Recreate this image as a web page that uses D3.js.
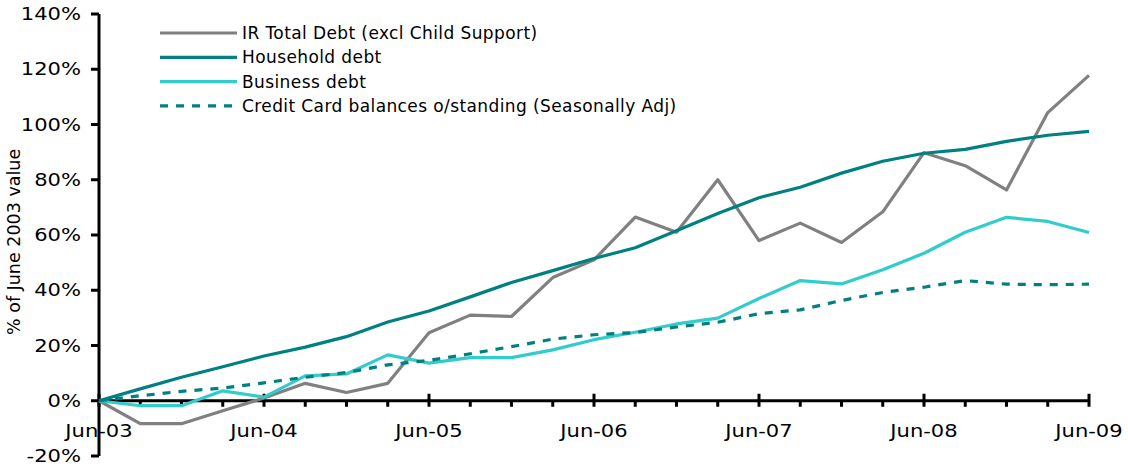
<!DOCTYPE html>
<html lang="en">
<head>
<meta charset="utf-8"/>
<title>Debt growth since June 2003</title>
<script src="https://d3js.org/d3.v7.min.js"></script>
<style>
  body { margin: 0; background: #fff; }
  svg text { font-family: "DejaVu Sans", Verdana, sans-serif; fill: #000; }
  .tick-label { font-size: 17px; }
  .legend-label { font-size: 17px; letter-spacing: 0.4px; }
  .line { fill: none; stroke-width: 3.2px; stroke-linejoin: round; }
</style>
</head>
<body>
<div id="chart"></div>
<script>
  // quarterly points, Jun-03 .. Jun-09 (% of June 2003 value)
  var xLabels = ["Jun-03", "Jun-04", "Jun-05", "Jun-06", "Jun-07", "Jun-08", "Jun-09"];
  var yTicks = [-20, 0, 20, 40, 60, 80, 100, 120, 140];

  var irTotal = [0, -8.3, -8.3, -3.6, 1, 6.3, 3, 6.3, 24.6, 31, 30.5, 44.6, 51,
                 66.5, 61, 80, 58, 64.3, 57.3, 68.4, 89.8, 85.1, 76.3, 104.3, 117.8];
  var household = [0, 4.3, 8.5, 12.3, 16.2, 19.4, 23.2, 28.5, 32.5, 37.6, 42.8, 47.1, 51.5,
                   55.4, 61.5, 67.8, 73.5, 77.3, 82.4, 86.7, 89.6, 91, 93.9, 96.1, 97.5];
  var business = [0, -1.8, -1.8, 3.6, 1.3, 9, 9.7, 16.6, 13.6, 15.6, 15.6, 18.4, 22.1,
                  24.8, 27.8, 29.9, 37, 43.5, 42.3, 47.4, 53.4, 61, 66.4, 64.9, 60.9];
  var creditCard = [0, 1.8, 3.4, 4.6, 6.5, 8.5, 10.2, 13, 14.6, 17, 19.6, 22.3, 23.9,
                    24.7, 26.7, 28.4, 31.5, 32.9, 36.3, 39.2, 41.1, 43.5, 42.2, 42, 42.2];

  var series = [
    { name: "IR Total Debt (excl Child Support)", values: irTotal, color: "#808080", dash: null },
    { name: "Household debt", values: household, color: "#008080", dash: null },
    { name: "Business debt", values: business, color: "#33CCCC", dash: null },
    { name: "Credit Card balances o/standing (Seasonally Adj)", values: creditCard, color: "#008080", dash: "8,8" }
  ];

  var width = 1128, height = 468;
  var stretch = 1.24; // tick labels in the original are drawn wide

  var x = d3.scaleLinear().domain([0, 24]).range([99, 1089]);
  var y = d3.scaleLinear().domain([-20, 140]).range([456, 14]);

  var svg = d3.select("#chart").append("svg")
      .attr("width", width)
      .attr("height", height);

  // y axis
  svg.append("line")
    .attr("x1", x(0)).attr("x2", x(0))
    .attr("y1", y(-20)).attr("y2", y(140))
    .attr("stroke", "#000").attr("stroke-width", 3);

  svg.selectAll(".ytick")
      .data(yTicks)
    .enter().append("line")
      .attr("x1", x(0) - 8).attr("x2", x(0))
      .attr("y1", function(d) { return y(d); })
      .attr("y2", function(d) { return y(d); })
      .attr("stroke", "#000").attr("stroke-width", 3);

  svg.selectAll(".ylabel")
      .data(yTicks)
    .enter().append("text")
      .attr("class", "tick-label")
      .attr("transform", function(d) { return "translate(" + (x(0) - 18) + "," + y(d) + ") scale(" + stretch + ",1)"; })
      .attr("dy", "0.36em")
      .attr("text-anchor", "end")
      .text(function(d) { return d + "%"; });

  svg.append("text")
    .attr("transform", "translate(20," + y(57.5) + ") rotate(-90)")
    .attr("text-anchor", "middle")
    .style("font-size", "17.5px")
    .text("% of June 2003 value");

  // x axis along 0%
  svg.append("line")
    .attr("x1", x(0)).attr("x2", x(24))
    .attr("y1", y(0)).attr("y2", y(0))
    .attr("stroke", "#000").attr("stroke-width", 3);

  svg.selectAll(".xtick")
      .data(d3.range(0, 25))
    .enter().append("line")
      .attr("x1", function(d) { return x(d); })
      .attr("x2", function(d) { return x(d); })
      .attr("y1", function(d) { return d % 4 === 0 ? y(0) - 7 : y(0); })
      .attr("y2", y(0) + 6)
      .attr("stroke", "#000").attr("stroke-width", 3);

  svg.selectAll(".xlabel")
      .data(xLabels)
    .enter().append("text")
      .attr("class", "tick-label")
      .attr("transform", function(d, i) { return "translate(" + x(i * 4) + "," + (y(0) + 36) + ") scale(" + stretch + ",1)"; })
      .attr("text-anchor", "middle")
      .text(function(d) { return d; });

  // series
  var line = d3.line()
    .x(function(d, i) { return x(i); })
    .y(function(d) { return y(d); });

  series.forEach(function(s) {
    svg.append("path")
        .datum(s.values)
      .attr("class", "line")
      .attr("stroke", s.color)
      .attr("stroke-dasharray", s.dash)
      .attr("d", line);
  });

  // legend
  var legend = svg.selectAll(".legend")
      .data(series)
    .enter().append("g")
      .attr("transform", function(d, i) { return "translate(160," + (33 + i * 24.3) + ")"; });

  legend.append("line")
    .attr("x1", 0).attr("x2", 77)
    .attr("stroke", function(d) { return d.color; })
    .attr("stroke-width", 3.2)
    .attr("stroke-dasharray", function(d) { return d.dash; });

  legend.append("text")
    .attr("class", "legend-label")
    .attr("x", 82)
    .attr("dy", "0.36em")
    .text(function(d) { return d.name; });
</script>
</body>
</html>
